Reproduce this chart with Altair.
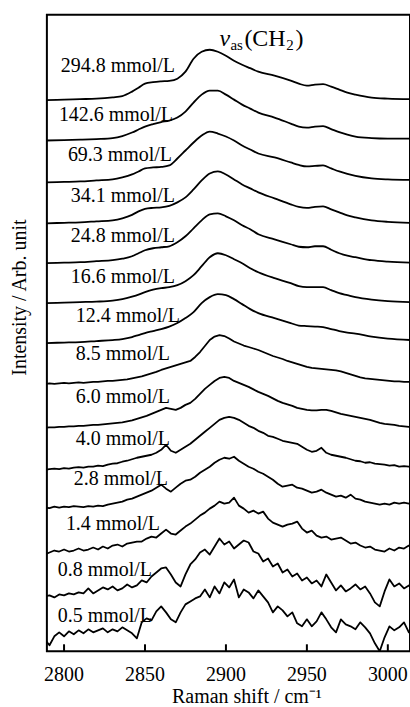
import altair as alt
import pandas as pd

FONT = "Liberation Serif"

CONCENTRATIONS = ["294.8 mmol/L", "142.6 mmol/L", "69.3 mmol/L", "34.1 mmol/L",
                  "24.8 mmol/L", "16.6 mmol/L", "12.4 mmol/L", "8.5 mmol/L",
                  "6.0 mmol/L", "4.0 mmol/L", "2.8 mmol/L", "1.4 mmol/L",
                  "0.8 mmol/L", "0.5 mmol/L"]
# vertical offset of each stacked spectrum (arb. units)
OFFSETS = [552, 511, 470, 429, 389, 349, 309, 268, 224, 182, 144, 97, 55, 12]
# label anchors (right end of text, baseline)
LABEL_WN = [2868.5, 2867.3, 2866.7, 2868.5, 2868.5, 2868.5, 2871.6,
            2865.4, 2865.4, 2865.4, 2864.2, 2859.3, 2854.3, 2854.3]
LABEL_Y = [581, 532, 491, 450, 410, 369, 330, 292, 249, 207, 167, 122, 75, 29]

TICKS = [2800, 2850, 2900, 2950, 3000]
TICK_LABELS = ["2800", "2850", "2900", "2950", "3000"]

# smooth spectra (high concentrations)
WN_SMOOTH = [2789, 2800, 2810, 2820, 2830, 2836, 2842, 2846, 2850, 2855,
             2860, 2865, 2870, 2875, 2880, 2885, 2890, 2895, 2900, 2905,
             2910, 2915, 2920, 2930, 2940, 2945, 2950, 2955, 2960, 2965,
             2970, 2975, 2980, 2990, 3000, 3014]
S1 = [0.5, 1, 1.5, 2, 3.3, 4.5, 9, 13, 17, 18.5,
      19.3, 19.8, 22, 29, 42, 49, 51, 49, 45, 40,
      36, 32.5, 29, 25, 20, 17, 15, 16, 16.5, 14,
      11, 8, 6, 3, 2, 1.5]
S2 = [1, 1.3, 1.8, 2.5, 3.5, 5.5, 9, 12, 15, 17.5,
      19.5, 21, 24, 30, 39, 47, 51, 51, 47, 42,
      37, 33, 29, 24, 18, 15, 14, 15, 15.5, 12.5,
      9.5, 7, 5, 3.5, 3, 3]
S3 = [0, 0.5, 1, 2, 3, 5, 8, 11, 14, 15,
      15.5, 17, 24, 32, 40, 47, 51, 49, 46, 42,
      37, 33, 29, 25, 20, 17.5, 16, 16.5, 17, 14,
      11, 8.5, 6.5, 4, 3, 2.5]
S4 = [0, 0.5, 1, 2, 3, 5, 8.5, 12, 14.5, 15.5,
      16, 17.5, 21, 26, 34, 43, 50, 52, 49, 44,
      39, 35, 31, 25, 19, 16.5, 15.5, 16.5, 17, 14,
      11, 8, 6, 3, 1.5, 0.5]
S5 = [0, 0.5, 1, 2, 3, 4.5, 7, 10, 13, 15,
      16, 17, 21, 27, 35, 43, 49, 50, 47, 43,
      38, 34, 29, 24, 19, 16.5, 16, 17, 17, 13.5,
      10, 7.5, 6, 3, 1.5, 0.5]
S6 = [0, 0.5, 1, 1.5, 2.5, 4, 6.5, 8.5, 11, 13.5,
      15, 16, 18, 22, 28, 37, 46, 50, 48, 44,
      40, 35, 31, 25, 20, 17, 16, 16, 16, 13,
      10, 8, 6, 3.5, 2, 1]
S7 = [0, 0.5, 1, 2, 3, 4, 6, 8, 10, 12,
      14, 16.5, 20, 25, 31, 40, 46, 49, 48, 44,
      39, 34, 30, 25, 20, 17.5, 17, 16.5, 16, 14,
      12, 10.5, 9.5, 6.5, 4.5, 3]
SMOOTH = [S1, S2, S3, S4, S5, S6, S7]

# noisy spectra (low concentrations), sampled every 3 cm-1 from 2788
WN_NOISY = list(range(2788, 3017, 3))
N8 = [0, 0.5, 0, 0.5, 1, 0.5, 1, 1.5, 1, 1.5,
      2, 2, 2.5, 3, 3, 3.5, 4, 4.5, 5.5, 6.5,
      7.5, 9, 10.5, 12, 14, 15.5, 17, 18.5, 20, 21.5,
      23, 27, 32, 38, 44, 47.5, 49, 48, 45.5, 42.5,
      40.5, 38.5, 37, 35.5, 34, 32, 30, 28, 26.5, 25,
      23, 21.5, 20, 18.5, 17, 16, 15.5, 15, 14.5, 14,
      13.5, 12.5, 11, 9.5, 8, 6.5, 5.5, 5, 4.5, 4,
      3.5, 3, 2.5, 2.5, 2, 2, 2]
N9 = [0, 0.5, 0.5, 1, 1, 1.5, 1.5, 2, 2, 2.5,
      3, 3, 3.5, 4, 4.5, 5, 5.5, 6.5, 7.5, 9,
      10.5, 12, 14, 16, 18, 20, 19, 18, 20, 23,
      25, 29, 34, 39, 43, 47, 50, 51, 50, 47,
      45, 43, 41, 38.5, 36, 34, 32, 29.5, 27, 25,
      23.5, 22, 20, 19, 18, 17.5, 17.5, 18, 18, 17,
      15.5, 14, 13, 12, 11, 10, 9, 8, 6.5, 5,
      4, 3.5, 3, 2, 1.5, 1, 1]
N10 = [0, 0.5, 1, 0.5, 1.5, 1, 2, 2.5, 2, 3,
       3, 4, 3.5, 5, 6, 6.5, 8, 9, 10.5, 12,
       13, 14, 15, 17, 20, 25, 19, 17, 20, 23,
       26, 30, 34, 38, 42, 46, 50, 52, 53, 52,
       50, 47, 44, 42, 39, 37, 34, 33, 31, 29,
       28, 27, 26, 23, 20, 18, 19, 22, 17, 15,
       14, 13, 12, 10.5, 9, 8.5, 7, 7.5, 6, 5.5,
       5, 4, 4.5, 3, 3.5, 3, 3]
N11 = [0, -0.5, 1, 0, 1, 0.5, 1.5, 1, 0.5, 1.5,
       1, 2, 1.5, 3, 4, 5, 6, 8, 9, 11,
       13, 15, 17, 20, 23, 19, 16, 20, 24, 27,
       28, 31, 35, 38, 41, 45, 48, 50, 49, 51,
       47, 44, 41, 39, 36, 34, 31, 28, 24, 21,
       22, 23, 20, 19, 17, 15, 16, 18, 15, 13,
       11, 12, 10, 13, 9, 8, 6, 5, 4, 3,
       4, 3, 5, 4, 5, 4, 5]
N12 = [0, 2, 4, 3, 5, 3, 4, 6, 4, 5,
       7, 5, 8, 6, 9, 10, 8, 11, 12, 13,
       13, 16, 18, 17, 21, 25, 21, 20, 24, 28,
       31, 35, 39, 42, 46, 49, 53, 51, 52, 57,
       49, 46, 42, 44, 41, 43, 36, 32, 30, 28,
       30, 31, 33, 26, 22, 24, 19, 17, 18, 15,
       16, 17, 14, 11, 12, 9, 7, 8, 5, 4,
       3, 6, 4, 7, 6, 9, 8]
N13 = [0, 1, -1, 2, 1, 3, 2, 4, 3, 8,
       3, 6, 9, 7, 10, 6, 8, 12, 9, 11,
       16, 14, 20, 24, 28, 29, 22, 14, 10, 22,
       32, 37, 44, 47, 42, 50, 58, 52, 55, 48,
       52, 56, 54, 45, 43, 35, 38, 30, 33, 24,
       27, 20, 23, 16, 19, 13, 16, 10, 22, 14,
       6, 11, 5, 8, 12, 7, 10, 3, -6, -10,
       5, 17, 10, 13, 8, 11, 7]
N14 = [0, -6, 3, 7, 3, 8, 5, 9, 6, 10,
       7, 9, 11, 7, 10, 8, 12, 9, 6, 1,
       17, 21, 19, 28, 33, 27, 20, 17, 27, 35,
       38, 41, 43, 50, 42, 53, 46, 57, 52, 60,
       42, 50, 47, 41, 49, 43, 37, 27, 33, 29,
       23, 27, 16, 13, 20, 13, 18, 27, 20, 12,
       7, 20, 15, 13, 10, 17, 12, 6, -4, -12,
       2, 13, 9, 12, 17, 7, 10]
NOISY = [N8, N9, N10, N11, N12, N13, N14]

rows_s = []
for k, vals in enumerate(SMOOTH):
    for wn, h in zip(WN_SMOOTH, vals):
        rows_s.append({"curve": k, "wn": wn, "y": OFFSETS[k] + h})
rows_n = []
for j, vals in enumerate(NOISY):
    k = j + len(SMOOTH)
    for wn, h in zip(WN_NOISY, vals):
        rows_n.append({"curve": k, "wn": wn, "y": OFFSETS[k] + h})
df_s = pd.DataFrame(rows_s)
df_n = pd.DataFrame(rows_n)
df_lab = pd.DataFrame({"wn": LABEL_WN, "y": LABEL_Y, "text": CONCENTRATIONS})

# tick marks (inward) and tick labels below the frame
TICK_LEN = 7
LABEL_DROP = -30
df_ticks = pd.DataFrame({"wn": TICKS, "y": [0] * len(TICKS),
                         "y2": [TICK_LEN] * len(TICKS)})
df_ticklab = pd.DataFrame({"wn": TICKS, "y": [LABEL_DROP] * len(TICKS),
                           "text": TICK_LABELS})

# annotation v_as(CH2), built from pieces
ANN_WN = [2896.0, 2902.8, 2911.4, 2937.3, 2942.9]
ANN_Y = [607, 603, 607, 603, 607]
df_ann_v = pd.DataFrame({"wn": [ANN_WN[0]], "y": [ANN_Y[0]], "text": ["v"]})
df_ann_sub = pd.DataFrame({"wn": [ANN_WN[1], ANN_WN[3]], "y": [ANN_Y[1], ANN_Y[3]],
                           "text": ["as", "2"]})
df_ann_big = pd.DataFrame({"wn": [ANN_WN[2], ANN_WN[4]], "y": [ANN_Y[2], ANN_Y[4]],
                           "text": ["(CH", ")"]})

xscale = alt.Scale(domain=[2789.4, 3013.7], nice=False, zero=False)
yscale = alt.Scale(domain=[0, 638], nice=False, zero=False)

x_enc = alt.X("wn:Q", scale=xscale,
              axis=alt.Axis(title="Raman shift / cm⁻¹", labels=False, ticks=False,
                            domain=False, grid=False,
                            titleFont=FONT, titleFontSize=20, titleFontWeight="normal",
                            titleColor="black", titleX=200, titleY=51,
                            titleBaseline="alphabetic", titleAlign="center"))
y_enc = alt.Y("y:Q", scale=yscale,
              axis=alt.Axis(title="Intensity / Arb. unit", labels=False, ticks=False,
                            domain=False, grid=False,
                            titleFont=FONT, titleFontSize=20, titleFontWeight="normal",
                            titleColor="black", titleX=-27, titleY=283,
                            titleAngle=-90, titleAlign="center", titleBaseline="middle"))

smooth = alt.Chart(df_s).mark_line(
    interpolate="monotone", color="black", strokeWidth=1.8, clip=True
).encode(x=x_enc, y=y_enc, detail="curve:N")

noisy = alt.Chart(df_n).mark_line(
    color="black", strokeWidth=1.8, clip=True, strokeJoin="round"
).encode(x="wn:Q", y="y:Q", detail="curve:N")

ticks = alt.Chart(df_ticks).mark_rule(color="black", strokeWidth=2).encode(
    x="wn:Q", y="y:Q", y2="y2:Q")

ticklabels = alt.Chart(df_ticklab).mark_text(
    align="center", baseline="alphabetic", font=FONT, fontSize=20, color="black"
).encode(x="wn:Q", y="y:Q", text="text:N")

labels = alt.Chart(df_lab).mark_text(
    align="right", baseline="alphabetic", font=FONT, fontSize=20, color="black"
).encode(x="wn:Q", y="y:Q", text="text:N")

ann_big = alt.Chart(df_ann_big).mark_text(
    align="left", baseline="alphabetic", font=FONT, fontSize=24, color="black"
).encode(x="wn:Q", y="y:Q", text="text:N")
ann_v = alt.Chart(df_ann_v).mark_text(
    align="left", baseline="alphabetic", font=FONT, fontSize=24, fontStyle="italic",
    color="black"
).encode(x="wn:Q", y="y:Q", text="text:N")
ann_sub = alt.Chart(df_ann_sub).mark_text(
    align="left", baseline="alphabetic", font=FONT, fontSize=15, color="black"
).encode(x="wn:Q", y="y:Q", text="text:N")

chart = alt.layer(smooth, noisy, ticks, ticklabels, labels,
                  ann_big, ann_v, ann_sub).properties(
    width=364, height=638,
    autosize=alt.AutoSizeParams(type="none"),
    padding={"left": 47, "top": 14, "right": 0, "bottom": 55},
    background="white",
).configure_view(stroke="black", strokeWidth=2)

chart.save("out.html", embed_options={"renderer": "svg", "actions": False})
